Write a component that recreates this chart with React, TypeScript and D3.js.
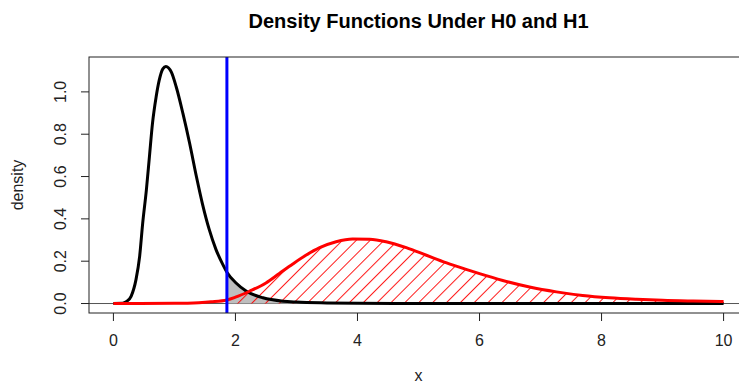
import React from "react";
import * as d3 from "d3";

const xTicks = [0, 2, 4, 6, 8, 10];
const yTicks = [0, 0.2, 0.4, 0.6, 0.8, 1.0];
const critical = 1.86;

const h0X = [0, 0.15, 0.21, 0.29, 0.37, 0.43, 0.48, 0.54, 0.59, 0.64, 0.7, 0.75, 0.81, 0.86, 0.95, 1.03, 1.14, 1.25, 1.36, 1.46, 1.57, 1.68, 1.79, 1.86, 2.01, 2.18, 2.45, 2.78, 3.0, 3.5, 4.0, 5, 6, 7, 8, 9, 10];
const h0Y = [0, 0.001, 0.008, 0.034, 0.113, 0.223, 0.38, 0.536, 0.693, 0.85, 0.976, 1.054, 1.109, 1.12, 1.093, 1.023, 0.897, 0.756, 0.6, 0.47, 0.35, 0.256, 0.186, 0.148, 0.097, 0.058, 0.027, 0.011, 0.007, 0.003, 0.001, 0, 0, 0, 0, 0, 0];

const h1X = [0, 1.0, 1.4, 1.6, 1.86, 2.0, 2.23, 2.5, 2.72, 2.94, 3.16, 3.38, 3.65, 3.92, 4.2, 4.47, 4.8, 5.13, 5.45, 5.78, 6.0, 6.38, 6.82, 7.26, 7.69, 8.13, 8.57, 9.0, 9.5, 10];
const h1Y = [0, 0.001, 0.004, 0.008, 0.017, 0.03, 0.058, 0.097, 0.142, 0.187, 0.229, 0.264, 0.292, 0.305, 0.304, 0.292, 0.264, 0.228, 0.193, 0.161, 0.141, 0.109, 0.078, 0.055, 0.038, 0.027, 0.02, 0.015, 0.012, 0.01];

const W = 739;
const H = 385;
const box = { left: 89, right: 748, top: 57, bottom: 313 };

export default function App() {
  const x = d3.scaleLinear().domain([-0.4, 10.4]).range([box.left, box.right]);
  const y = d3.scaleLinear().domain([-0.0448, 1.1648]).range([box.bottom, box.top]);

  const h0 = h0X.map((v, i) => [v, h0Y[i]] as [number, number]);
  const h1 = h1X.map((v, i) => [v, h1Y[i]] as [number, number]);

  const curve = d3.curveMonotoneX;
  const line = d3
    .line<[number, number]>()
    .x((d) => x(d[0]))
    .y((d) => y(d[1]))
    .curve(curve);
  const area = d3
    .area<[number, number]>()
    .x((d) => x(d[0]))
    .y0(y(0))
    .y1((d) => y(d[1]))
    .curve(curve);

  const h0Tail = h0.filter((d) => d[0] >= critical);
  const h1Tail = h1.filter((d) => d[0] >= critical);

  const font = "'Liberation Sans', Arial, sans-serif";

  return (
    <svg
      width={W}
      height={H}
      style={{ position: "absolute", left: 0, top: 0, background: "#fff" }}
      fontFamily={font}
    >
      <defs>
        <clipPath id="plotclip">
          <rect x={box.left} y={box.top} width={box.right - box.left} height={box.bottom - box.top} />
        </clipPath>
        <pattern
          id="hatch"
          patternUnits="userSpaceOnUse"
          width={9.8}
          height={9.8}
          patternTransform="rotate(45)"
        >
          <line x1={0.5} y1={0} x2={0.5} y2={9.8} stroke="#ff0000" strokeWidth={1} strokeOpacity={0.9} />
        </pattern>
      </defs>

      <text x={(box.left + box.right) / 2} y={28} textAnchor="middle" fontWeight="bold" fontSize={20}>
        Density Functions Under H0 and H1
      </text>

      <g clipPath="url(#plotclip)">
        <line x1={box.left} x2={box.right} y1={y(0)} y2={y(0)} stroke="#555" strokeWidth={1} />
        <path d={area(h0Tail) || ""} fill="#bebebe" />
        <path d={area(h1Tail) || ""} fill="url(#hatch)" />
        <path d={line(h0) || ""} fill="none" stroke="#000" strokeWidth={3} strokeLinejoin="round" />
        <path d={line(h1) || ""} fill="none" stroke="#ff0000" strokeWidth={3} strokeLinejoin="round" />
        <line x1={x(critical)} x2={x(critical)} y1={box.top} y2={box.bottom} stroke="#0000ff" strokeWidth={3} />
      </g>

      <rect
        x={box.left}
        y={box.top}
        width={box.right - box.left}
        height={box.bottom - box.top}
        fill="none"
        stroke="#222"
        strokeWidth={1}
      />

      {xTicks.map((t) => (
        <g key={"x" + t}>
          <line x1={x(t)} x2={x(t)} y1={box.bottom} y2={box.bottom + 8} stroke="#222" />
          <text x={x(t)} y={346} textAnchor="middle" fontSize={16} fill="#222">
            {t}
          </text>
        </g>
      ))}

      {yTicks.map((t) => (
        <g key={"y" + t}>
          <line x1={box.left - 8} x2={box.left} y1={y(t)} y2={y(t)} stroke="#222" />
          <text
            transform={`translate(66,${y(t)}) rotate(-90)`}
            textAnchor="middle"
            fontSize={16}
            fill="#222"
          >
            {t.toFixed(1)}
          </text>
        </g>
      ))}

      <text x={(box.left + box.right) / 2} y={381} textAnchor="middle" fontSize={16} fill="#222">
        x
      </text>
      <text transform={`translate(23,${(box.top + box.bottom) / 2}) rotate(-90)`} textAnchor="middle" fontSize={16} fill="#222">
        density
      </text>
    </svg>
  );
}
